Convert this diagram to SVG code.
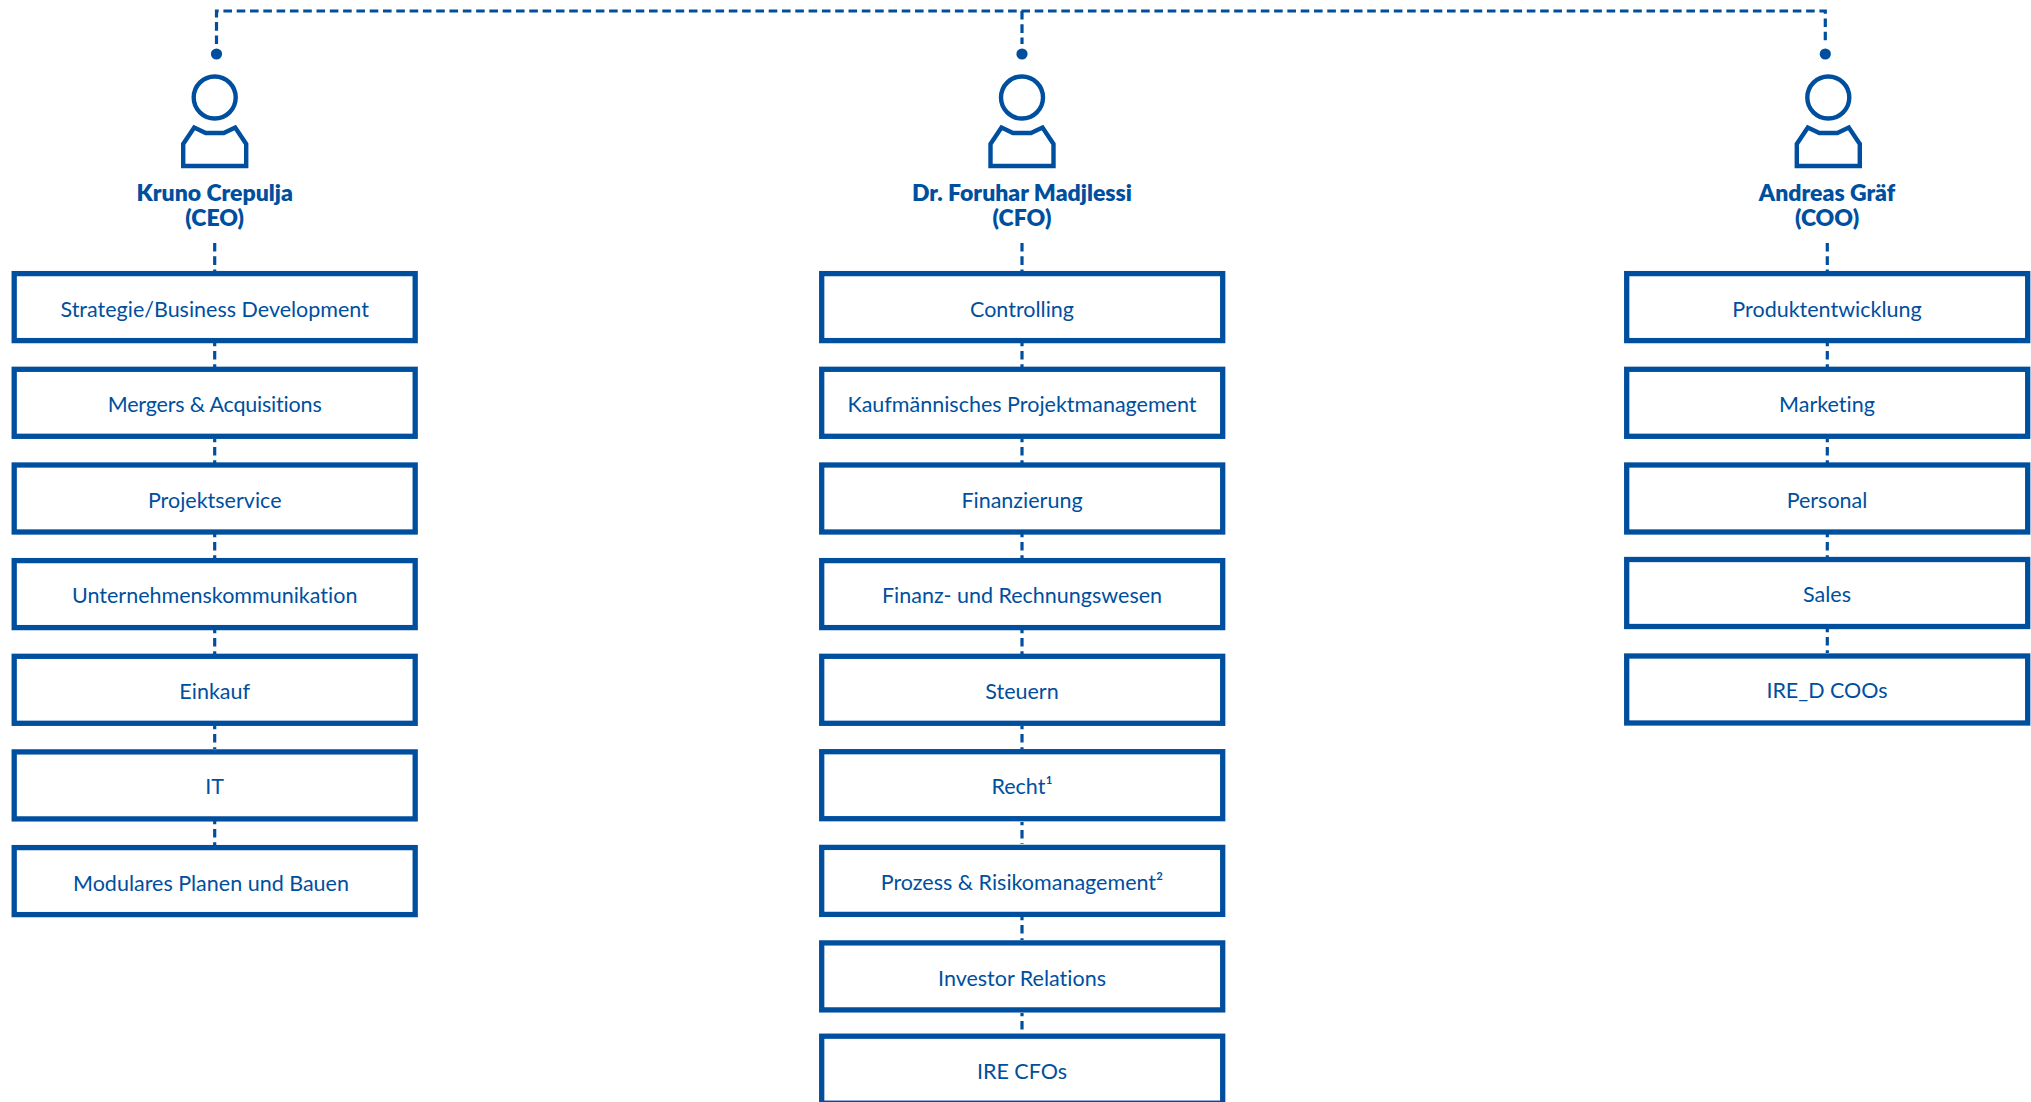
<svg xmlns="http://www.w3.org/2000/svg" width="2031" height="1102" viewBox="0 0 2031 1102">
<style>
.b{fill:#fff;stroke:#004f9f;stroke-width:5.3}
.t{font-family:"Lato","Liberation Sans",sans-serif;font-size:21.5px;fill:#004f9f;text-anchor:middle;font-variant-ligatures:none}
.n{font-family:"Lato","Liberation Sans",sans-serif;font-size:23px;font-weight:800;fill:#004f9f;text-anchor:middle;font-variant-ligatures:none}
.i{fill:none;stroke:#004f9f;stroke-width:4.4}
.c{fill:none;stroke:#004f9f;stroke-width:3.2;stroke-dasharray:8.6 4.7}
.o{stroke-dashoffset:5.3}
.d{fill:#004f9f}
</style>
<defs>
<g id="person"><circle class="i" cx="0" cy="97.5" r="21"/><path class="i" d="M-31.5 166V144L-20.5 127.5L-9 133H9L20.5 127.5L31.5 144V166Z"/></g>
</defs>
<rect width="2031" height="1102" fill="#fff"/>
<g id="connectors">
<path class="c" d="M216.5 44V11H1825.3V44M1022 11V44"/>
<path class="c" d="M214.7 243V271"/><path class="c" d="M1022 243V271"/><path class="c" d="M1827.3 243V271"/>
<path class="c o" d="M214.7 343V367M214.7 439V463M214.7 534V558M214.7 630V654M214.7 726V749M214.7 821V845"/>
<path class="c o" d="M1022 343V367M1022 439V463M1022 534V558M1022 630V654M1022 726V749M1022 822V844M1022 917V940M1022 1013V1034"/>
<path class="c o" d="M1827.3 343V367M1827.3 439V463M1827.3 534V557M1827.3 629V653"/>
<circle class="d" cx="216.5" cy="54" r="5.6"/><circle class="d" cx="1022" cy="54" r="5.6"/><circle class="d" cx="1825.3" cy="54" r="5.6"/>
</g>
<g id="ceo"><use href="#person" x="214.7"/><text class="n" x="214.7" y="201">Kruno Crepulja</text><text class="n" x="214.7" y="226">(CEO)</text></g>
<g id="cfo"><use href="#person" x="1022"/><text class="n" x="1022" y="201">Dr. Foruhar Madjlessi</text><text class="n" x="1022" y="226">(CFO)</text></g>
<g id="coo"><use href="#person" x="1828.3"/><text class="n" x="1827" y="201">Andreas Gräf</text><text class="n" x="1827" y="226">(COO)</text></g>
<g id="l1"><rect class="b" x="14.2" y="273.6" width="401" height="67"/><text class="t" x="214.7" y="316.5">Strategie/Business Development</text></g>
<g id="l2"><rect class="b" x="14.2" y="369.3" width="401" height="67"/><text class="t" x="214.7" y="411.5" textLength="214" lengthAdjust="spacing">Mergers &amp; Acquisitions</text></g>
<g id="l3"><rect class="b" x="14.2" y="465" width="401" height="67"/><text class="t" x="214.7" y="507.5">Projektservice</text></g>
<g id="l4"><rect class="b" x="14.2" y="560.6" width="401" height="67"/><text class="t" x="214.7" y="602.5">Unternehmenskommunikation</text></g>
<g id="l5"><rect class="b" x="14.2" y="656.3" width="401" height="67"/><text class="t" x="214.7" y="698.8">Einkauf</text></g>
<g id="l6"><rect class="b" x="14.2" y="751.9" width="401" height="67"/><text class="t" x="214.7" y="793.5">IT</text></g>
<g id="l7"><rect class="b" x="14.2" y="847.6" width="401" height="67"/><text class="t" x="211" y="890.7">Modulares Planen und Bauen</text></g>
<g id="m1"><rect class="b" x="821.7" y="273.6" width="401" height="67"/><text class="t" x="1022" y="316.5">Controlling</text></g>
<g id="m2"><rect class="b" x="821.7" y="369.3" width="401" height="67"/><text class="t" x="1022" y="411.5">Kaufmännisches Projektmanagement</text></g>
<g id="m3"><rect class="b" x="821.7" y="465" width="401" height="67"/><text class="t" x="1022" y="507.5">Finanzierung</text></g>
<g id="m4"><rect class="b" x="821.7" y="560.6" width="401" height="67"/><text class="t" x="1022" y="602.5">Finanz- und Rechnungswesen</text></g>
<g id="m5"><rect class="b" x="821.7" y="656.3" width="401" height="67"/><text class="t" x="1022" y="698.8">Steuern</text></g>
<g id="m6"><rect class="b" x="821.7" y="751.7" width="401" height="67"/><text class="t" x="1022" y="793.5">Recht¹</text></g>
<g id="m7"><rect class="b" x="821.7" y="847.4" width="401" height="67"/><text class="t" x="1022" y="889.7">Prozess &amp; Risikomanagement²</text></g>
<g id="m8"><rect class="b" x="821.7" y="942.9" width="401" height="67"/><text class="t" x="1022" y="985.7">Investor Relations</text></g>
<g id="m9"><rect class="b" x="821.7" y="1036.2" width="401" height="67"/><text class="t" x="1022" y="1078.7">IRE CFOs</text></g>
<g id="r1"><rect class="b" x="1626.7" y="273.6" width="401" height="67"/><text class="t" x="1827" y="316.5">Produktentwicklung</text></g>
<g id="r2"><rect class="b" x="1626.7" y="369.3" width="401" height="67"/><text class="t" x="1827" y="411.5">Marketing</text></g>
<g id="r3"><rect class="b" x="1626.7" y="465" width="401" height="67"/><text class="t" x="1827" y="507.7">Personal</text></g>
<g id="r4"><rect class="b" x="1626.7" y="559.5" width="401" height="67"/><text class="t" x="1827" y="601.7">Sales</text></g>
<g id="r5"><rect class="b" x="1626.7" y="656" width="401" height="67"/><text class="t" x="1827" y="697.7">IRE_D COOs</text></g>
</svg>
